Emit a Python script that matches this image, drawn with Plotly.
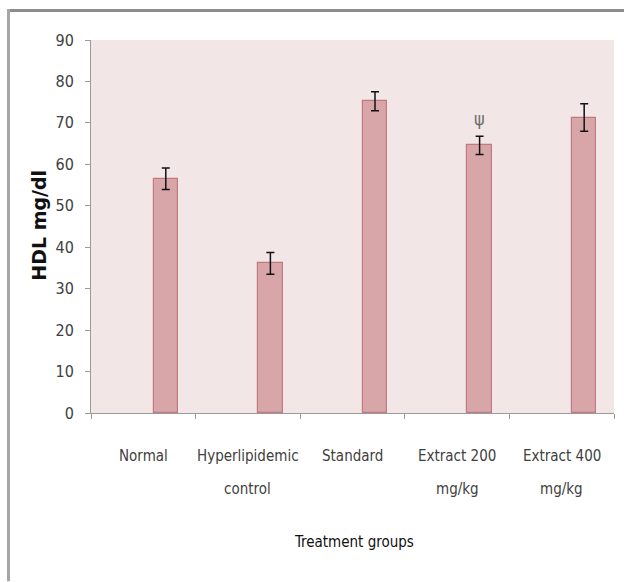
import plotly.graph_objects as go

# HDL levels per treatment group (mean ± SE)
groups = ["Normal", "Hyperlipidemic control", "Standard", "Extract 200 mg/kg", "Extract 400 mg/kg"]
label_line1 = ["Normal", "Hyperlipidemic", "Standard", "Extract 200", "Extract 400"]
label_line2 = ["", "control", "", "mg/kg", "mg/kg"]
hdl_mean = [56.5, 36.1, 75.2, 64.6, 71.3]
hdl_err = [2.6, 2.6, 2.3, 2.2, 3.3]
y_ticks = [0, 10, 20, 30, 40, 50, 60, 70, 80, 90]

# significance marker
mark_group = "Extract 200 mg/kg"
mark_symbol = "ψ"
mark_level = 71.0

W, H = 624, 582
L, R, T, B = 91, 614, 40, 413.5  # plot area in pixels


def px_x(px):
    return (px - L) / (R - L)


def px_y(py):
    return (B - py) / (B - T)


narrow = "DejaVu Sans Condensed, Liberation Sans Narrow, sans-serif"

fig = go.Figure()
fig.add_trace(go.Bar(
    x=groups,
    y=hdl_mean,
    width=0.234,
    offset=0.098,
    marker=dict(color="#d8a6a9", line=dict(color="#c07a80", width=1.2)),
    error_y=dict(type="data", array=hdl_err, visible=True,
                 color="#111111", thickness=1.5, width=4),
    showlegend=False,
))

annotations = []
for g, l1, l2 in zip(groups, label_line1, label_line2):
    annotations.append(dict(x=g, xref="x", y=px_y(457), yref="paper", text=l1,
                            showarrow=False, xanchor="center", yanchor="middle",
                            font=dict(family=narrow, size=15, color="#404040")))
    if l2:
        annotations.append(dict(x=g, xref="x", y=px_y(490), yref="paper", text=l2,
                                showarrow=False, xanchor="center", yanchor="middle",
                                font=dict(family=narrow, size=15, color="#404040")))

# psi marker above the bar (bar center sits right of the category center)
annotations.append(dict(x=groups.index(mark_group) + 0.098 + 0.117, xref="x",
                        y=mark_level, yref="y", text=mark_symbol, showarrow=False,
                        xanchor="center", yanchor="middle",
                        font=dict(family=narrow, size=18, color="#6e6e6e")))

# axis titles
annotations.append(dict(x=px_x(39), xref="paper", y=px_y(226), yref="paper",
                        text="<b>HDL mg/dl</b>", textangle=-90, showarrow=False,
                        xanchor="center", yanchor="middle",
                        font=dict(family="DejaVu Sans, sans-serif", size=19, color="#111111")))
annotations.append(dict(x=px_x(354), xref="paper", y=px_y(543), yref="paper",
                        text="Treatment groups", showarrow=False,
                        xanchor="center", yanchor="middle",
                        font=dict(family=narrow, size=15, color="#111111")))

# outer frame: top and left edges
shapes = [
    dict(type="line", xref="paper", yref="paper",
         x0=px_x(7), x1=px_x(624), y0=px_y(10.5), y1=px_y(10.5),
         line=dict(color="#8c8c8c", width=3)),
    dict(type="line", xref="paper", yref="paper",
         x0=px_x(8.5), x1=px_x(8.5), y0=px_y(9), y1=px_y(582),
         line=dict(color="#a6a6a6", width=3)),
]

fig.update_layout(
    width=W, height=H,
    margin=dict(l=L, r=W - R, t=T, b=H - B, pad=0),
    paper_bgcolor="white",
    plot_bgcolor="#f2e6e6",
    bargap=0,
    annotations=annotations,
    shapes=shapes,
    xaxis=dict(
        type="category",
        showticklabels=False,
        showline=True, linecolor="#9a9a9a", linewidth=1,
        ticks="outside", tickson="boundaries", ticklen=5, tickcolor="#9a9a9a",
        showgrid=False, zeroline=False,
    ),
    yaxis=dict(
        range=[0, 90],
        tickvals=y_ticks,
        showline=True, linecolor="#9a9a9a", linewidth=1,
        ticks="outside", ticklen=5, tickcolor="#9a9a9a",
        ticklabelstandoff=8,
        tickfont=dict(family=narrow, size=16, color="#404040"),
        showgrid=False, zeroline=False,
    ),
)

fig.write_html("out.html")
